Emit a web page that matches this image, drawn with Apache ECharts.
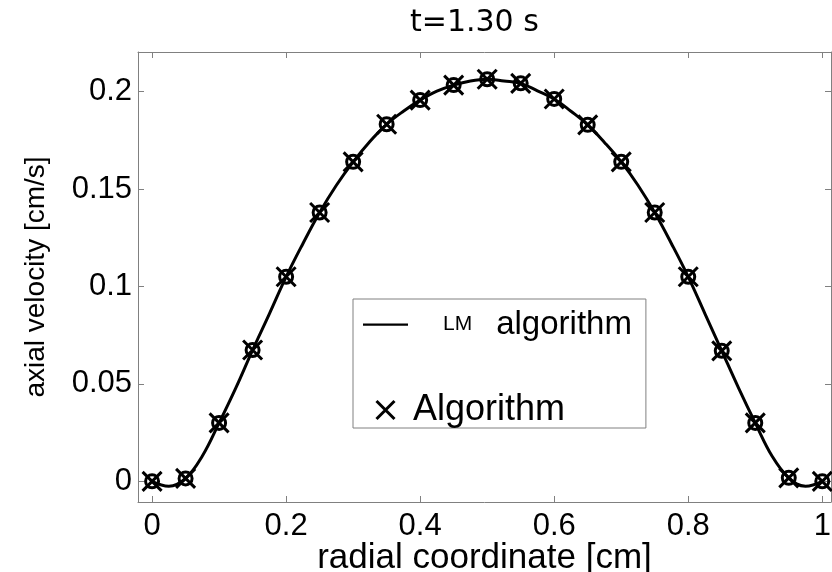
<!DOCTYPE html>
<html>
<head>
<meta charset="utf-8">
<script src="https://cdn.jsdelivr.net/npm/echarts@6/dist/echarts.min.js"></script>
<style>
html, body { margin: 0; padding: 0; background: #fff; }
#chart { width: 832px; height: 572px; }
</style>
</head>
<body>
<div id="chart"></div>
<script>
// markers (x in cm, axial velocity in cm/s)
var markerX = [0, 0.05, 0.1, 0.15, 0.2, 0.25, 0.3, 0.35, 0.4, 0.45, 0.5,
               0.55, 0.6, 0.65, 0.7, 0.75, 0.8, 0.85, 0.9, 0.95, 1];
var markerY = [0, 0.0015, 0.030, 0.0674, 0.105, 0.138, 0.164, 0.1833, 0.1957, 0.2034, 0.2064,
               0.2043, 0.1963, 0.183, 0.164, 0.138, 0.105, 0.067, 0.030, 0.0018, 0];

// solid curve (LM algorithm)
var curveX = [0, 0.025, 0.05, 0.075, 0.1, 0.125, 0.15, 0.175, 0.2, 0.225, 0.25, 0.275, 0.3,
              0.325, 0.35, 0.375, 0.4, 0.425, 0.45, 0.475, 0.5, 0.525, 0.55, 0.575, 0.6,
              0.625, 0.65, 0.675, 0.7, 0.725, 0.75, 0.775, 0.8, 0.825, 0.85, 0.875, 0.9,
              0.925, 0.95, 0.975, 1];
var curveY = [0, -0.0025, 0.0015, 0.013, 0.030, 0.048, 0.0674, 0.086, 0.105, 0.122, 0.138, 0.152, 0.164,
              0.1745, 0.1833, 0.190, 0.1957, 0.2003, 0.2034, 0.2055, 0.2064, 0.2055, 0.2043, 0.2005, 0.1963,
              0.190, 0.183, 0.174, 0.164, 0.152, 0.138, 0.122, 0.105, 0.086, 0.067, 0.048, 0.030,
              0.013, 0.0018, -0.0025, 0];

var xTicks = ['0', '0.2', '0.4', '0.6', '0.8', '1'];
var yTicks = ['0', '0.05', '0.1', '0.15', '0.2'];

function pairs(xs, ys) {
  return xs.map(function (x, i) { return [x, ys[i]]; });
}

var crossPath = 'path://M0 0 L100 100 M100 0 L0 100';
var crossIcon = 'path://M0 0 M100 100 M20 20 L80 80 M80 20 L20 80';
var lineIcon = 'path://M0 0 M100 40 M0 17.5 L100 17.5 L100 22.5 L0 22.5 Z';
var axisGray = '#808080';
var font = '"Liberation Sans", Arial, sans-serif';

function fmtX(v) {
  var s = String(Math.round(v * 1000) / 1000);
  return xTicks.indexOf(s) >= 0 ? s : '';
}
function fmtY(v) {
  var s = String(Math.round(v * 10000) / 10000);
  return yTicks.indexOf(s) >= 0 ? s : '';
}

var xBase = {
  type: 'value', min: -0.021, max: 1.013, splitNumber: 5,
  axisLine: { onZero: false, lineStyle: { color: axisGray, width: 1 } },
  axisTick: { inside: true, length: 6, lineStyle: { color: axisGray } },
  splitLine: { show: false }
};
var yBase = {
  type: 'value', min: -0.0106, max: 0.2204, splitNumber: 5,
  axisLine: { onZero: false, lineStyle: { color: axisGray, width: 1 } },
  axisTick: { inside: true, length: 6, lineStyle: { color: axisGray } },
  splitLine: { show: false }
};

var myChart = echarts.init(document.getElementById('chart'));
var option = {
  animation: false,
  backgroundColor: '#fff',
  title: {
    text: 't=1.30 s',
    left: 405, top: 3,
    textStyle: { fontFamily: '"DejaVu Sans", sans-serif', fontSize: 30, fontWeight: 'normal', color: '#000' }
  },
  grid: { left: 138, top: 52, width: 693, height: 450, containLabel: false, outerBoundsMode: 'none' },
  legend: {
    orient: 'vertical',
    left: 353, top: 299,
    padding: [9, 14, 0, 10],
    itemGap: 51,
    itemWidth: 45, itemHeight: 30,
    borderColor: axisGray, borderWidth: 1,
    backgroundColor: '#fff',
    data: [
      { name: 'LM algorithm', icon: lineIcon,
        itemStyle: { color: '#000', borderWidth: 0 } },
      { name: 'Algorithm', icon: crossIcon,
        itemStyle: { color: 'transparent', borderColor: '#000', borderWidth: 3 } }
    ],
    formatter: function (name) {
      return name === 'LM algorithm' ? '{s|LM}{m|algorithm}' : '{b|Algorithm}';
    },
    textStyle: {
      color: '#000', fontFamily: font, lineHeight: 30,
      rich: {
        s: { fontSize: 21, fontFamily: font, height: 30, lineHeight: 30, padding: [0, 0, 0, 30] },
        m: { fontSize: 33, fontFamily: font, height: 30, lineHeight: 30, padding: [0, 0, 0, 24] },
        b: { fontSize: 36, fontFamily: font, height: 30, lineHeight: 30 }
      }
    }
  },
  xAxis: [
    Object.assign({}, xBase, {
      position: 'bottom',
      axisLabel: { margin: 9, fontSize: 31, lineHeight: 31, color: '#000', fontFamily: font, formatter: fmtX },
      name: 'radial coordinate [cm]',
      nameLocation: 'middle', nameGap: 39, nameMoveOverlap: false,
      nameTextStyle: { fontSize: 35, lineHeight: 35, color: '#000', fontFamily: font }
    }),
    Object.assign({}, xBase, { position: 'top', axisLabel: { show: false } })
  ],
  yAxis: [
    Object.assign({}, yBase, {
      position: 'left',
      axisLabel: { margin: 6, fontSize: 31, color: '#000', fontFamily: font, formatter: fmtY },
      name: 'axial velocity [cm/s]',
      nameLocation: 'middle', nameGap: 88, nameMoveOverlap: false,
      nameTextStyle: { fontSize: 28, color: '#000', fontFamily: font }
    }),
    Object.assign({}, yBase, { position: 'right', axisLabel: { show: false } })
  ],
  series: [
    {
      name: 'LM algorithm',
      type: 'line',
      smooth: 0.4,
      symbol: 'none',
      data: pairs(curveX, curveY),
      lineStyle: { color: '#000', width: 3 },
      itemStyle: { color: '#000' },
      z: 2
    },
    {
      name: 'circles',
      type: 'scatter',
      symbol: 'circle',
      symbolSize: 13,
      data: pairs(markerX, markerY),
      itemStyle: { color: 'transparent', borderColor: '#000', borderWidth: 3, opacity: 1 },
      z: 3
    },
    {
      name: 'Algorithm',
      type: 'scatter',
      symbol: crossPath,
      symbolSize: 19,
      data: pairs(markerX, markerY),
      itemStyle: { color: 'transparent', borderColor: '#000', borderWidth: 3, opacity: 1 },
      z: 4
    }
  ]
};
myChart.setOption(option);
window.addEventListener('resize', function () {
  myChart.resize();
});
</script>
</body>
</html>
